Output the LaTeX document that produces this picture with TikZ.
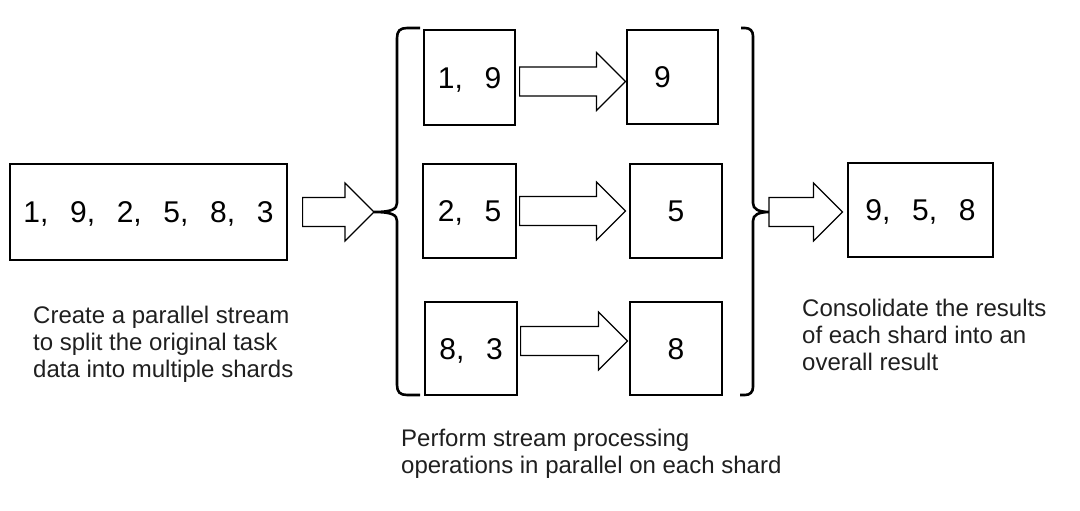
\documentclass[tikz,border=0pt]{standalone}
\usepackage{fontspec}
\setmainfont{Liberation Sans}
\usetikzlibrary{calc}
\newcommand\fc{,\kern0.722em\relax}
\newcommand\blockarrow[2]{%
  \draw[blk] let \p1=#1, \p2=#2 in
    (\x1,{\y1+14.5pt}) -- ({\x2-29pt},{\y1+14.5pt}) -- ({\x2-29pt},{\y1+29pt})
    -- (\x2,\y1) -- ({\x2-29pt},{\y1-29pt}) -- ({\x2-29pt},{\y1-14.5pt})
    -- (\x1,{\y1-14.5pt}) -- cycle;}
\begin{document}
\begin{tikzpicture}[x=1pt,y=-1pt,
  box/.style={draw, line width=1.2pt, inner sep=0pt, text height=21.5pt, text depth=-3pt,
    font=\fontsize{30}{36}\selectfont},
  blk/.style={draw, line width=1.2pt, fill=white},
  bracepath/.style={draw, line width=2.6pt},
  note/.style={font=\fontsize{24}{27}\selectfont, align=left, anchor=base west, inner sep=0pt, text=black!88}]
\useasboundingbox (0,0) rectangle (1080,511);

% source
\node[box, minimum width=277, minimum height=96] (src) at (148.5,212) {1\fc9\fc2\fc5\fc8\fc3};

% shard boxes
\node[box, minimum width=91, minimum height=95] (l1) at (469.5,77.5) {1\fc9};
\node[box, minimum width=91, minimum height=94] (r1) at (672.5,77) {\hspace*{-20pt}9};
\node[box, minimum width=93, minimum height=94] (l2) at (469.5,211) {2\fc5};
\node[box, minimum width=92, minimum height=94] (r2) at (676,211) {5};
\node[box, minimum width=92, minimum height=93] (l3) at (471,348.5) {8\fc3};
\node[box, minimum width=92, minimum height=93] (r3) at (676,348.5) {8};

% result
\node[box, minimum width=145, minimum height=94] (res) at (920.5,210) {9\fc5\fc8};

% braces
\coordinate (lcusp) at (374,212);
\coordinate (rcusp) at (770,212);
\draw[bracepath] (420,28) -- (407,28) .. controls (400,28) and (397,31) .. (397,38)
  -- (397,203) .. controls (397,209) and (392,212) .. (lcusp)
  .. controls (392,212) and (397,215) .. (397,221)
  -- (397,385) .. controls (397,392) and (400,395) .. (407,395) -- (420,395);
\draw[bracepath] (741,28) -- (745,28) .. controls (750,28) and (753,31) .. (753,36)
  -- (753,203) .. controls (753,209) and (758,212) .. (rcusp)
  .. controls (758,212) and (753,215) .. (753,221)
  -- (753,387) .. controls (753,392) and (750,395) .. (745,395) -- (740,395);

% block arrows
\blockarrow{($(src.east)+(15,0)$)}{(lcusp)}
\blockarrow{($(l1.east)+(4,4)$)}{($(r1.west)+(-1,4)$)}
\blockarrow{($(l2.east)+(3,0)$)}{($(r2.west)+(-4,0)$)}
\blockarrow{($(l3.east)+(3,-7.5)$)}{($(r3.west)+(-2,-7.5)$)}
\blockarrow{($(rcusp)+(-1,0)$)}{($(res.west)+(-5,1)$)}

% notes (base = last line)
\node[note] (n1) at (33,377) {Create a parallel stream\\to split the original task\\data into multiple shards};
\node[note] (n2) at (401,473) {Perform stream processing\\operations in parallel on each shard};
\node[note] (n3) at (802,370) {Consolidate the results\\of each shard into an\\overall result};
\end{tikzpicture}
\end{document}
